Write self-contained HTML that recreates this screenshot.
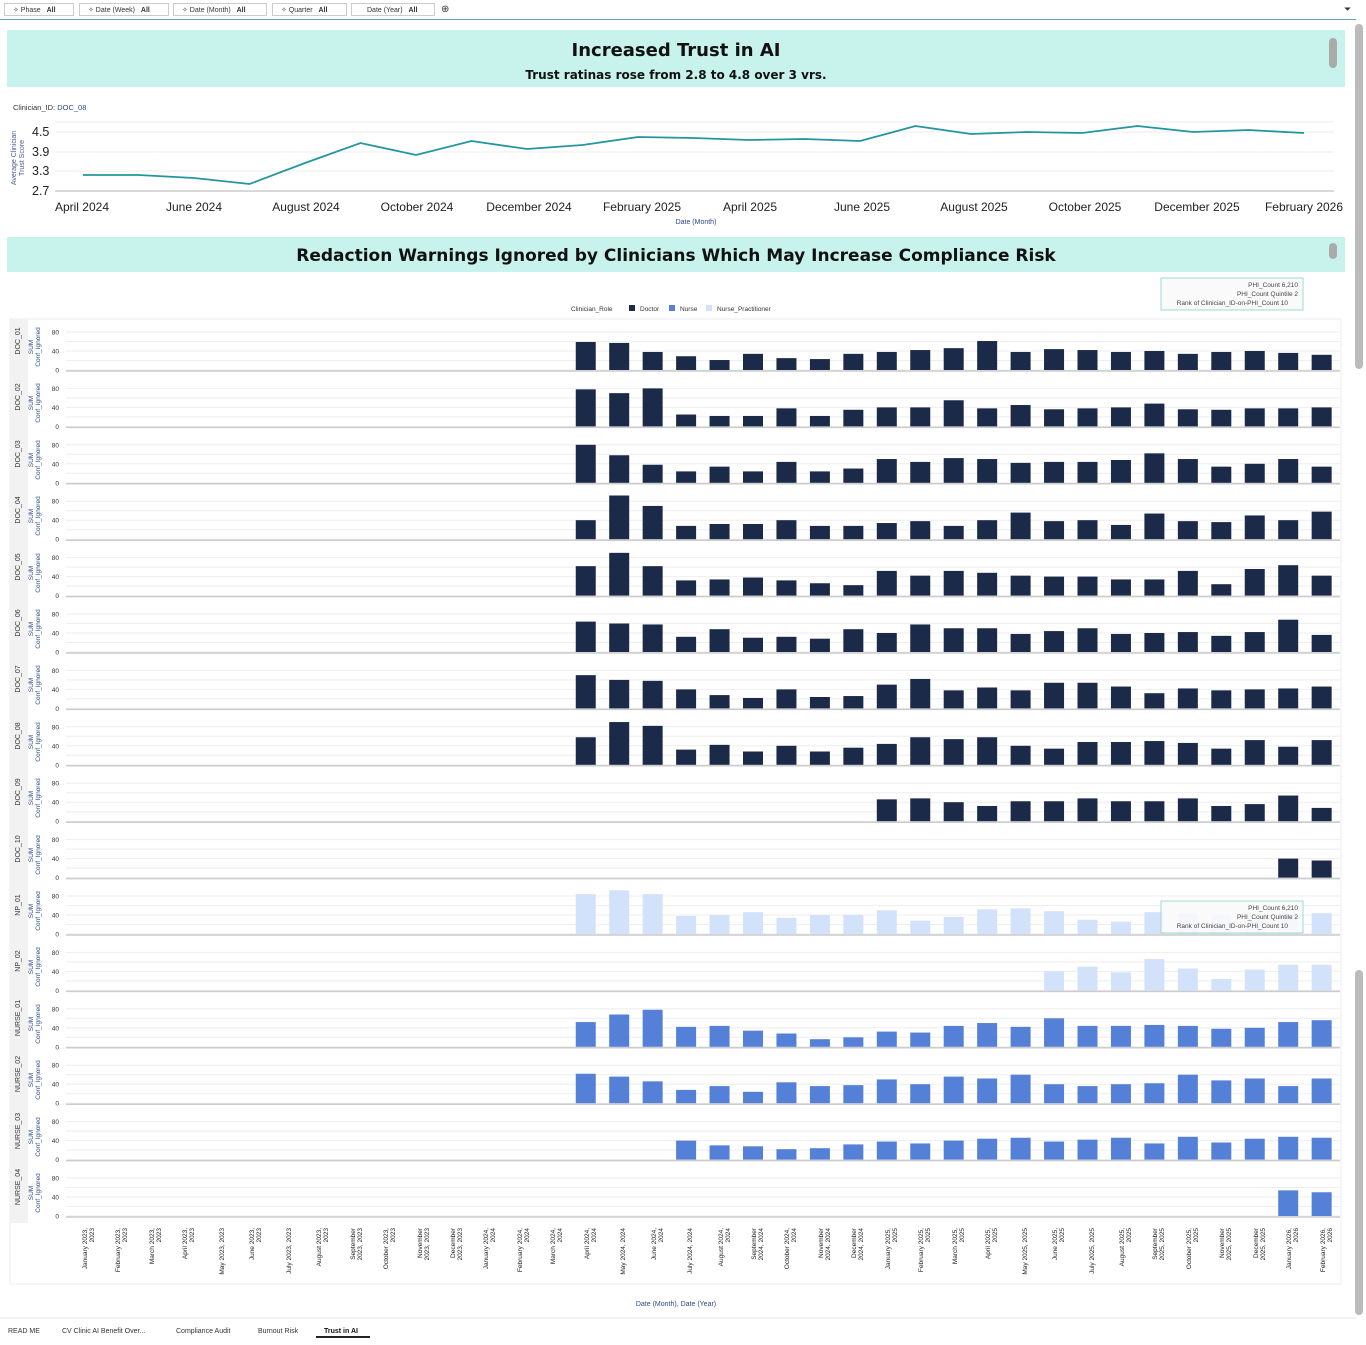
<!DOCTYPE html>
<html><head><meta charset="utf-8"><style>
body{margin:0;width:1366px;height:1345px;background:#fff;font-family:"Liberation Sans",sans-serif;overflow:hidden;position:relative}
.f{position:absolute;top:3px;height:13px;border:1px solid #ccc;font-size:7px;line-height:13px;color:#333;box-sizing:border-box;padding-left:8px}
.f b{font-weight:bold;margin-left:4px}
.ban{position:absolute;left:7px;width:1338px;background:#c8f2ec;text-align:center;color:#111;font-weight:bold;font-family:"DejaVu Sans","Liberation Sans",sans-serif}
svg text{font-family:"Liberation Sans",sans-serif}
</style></head><body>
<div class="f" style="left:4px;width:70px">✧ Phase <b>All</b></div>
<div class="f" style="left:79px;width:90px">✧ Date (Week) <b>All</b></div>
<div class="f" style="left:173px;width:94px">✧ Date (Month) <b>All</b></div>
<div class="f" style="left:272px;width:75px">✧ Quarter <b>All</b></div>
<div class="f" style="left:351px;width:84px;padding-left:15px">Date (Year) <b>All</b></div>
<div style="position:absolute;left:441px;top:4px;font-size:10px;color:#333">⊕</div>
<div style="position:absolute;left:1344px;top:4px;font-size:9px;color:#333">⏷</div>
<div style="position:absolute;left:0;top:19px;width:1356px;height:1px;background:#6a9fc7"></div>
<div class="ban" style="top:30px;height:57px"><div style="font-size:18px;margin-top:10px">Increased Trust in AI</div><div style="font-size:12px;margin-top:7px">Trust ratinas rose from 2.8 to 4.8 over 3 vrs.</div></div>
<div class="ban" style="top:237px;height:35px"><div style="font-size:17px;margin-top:9px">Redaction Warnings Ignored by Clinicians Which May Increase Compliance Risk</div></div>
<div style="position:absolute;left:1329px;top:38px;width:8px;height:30px;background:#aaa;border-radius:4px"></div>
<div style="position:absolute;left:1329px;top:243px;width:8px;height:16px;background:#aaa;border-radius:4px"></div>
<div style="position:absolute;left:1355px;top:24px;width:8px;height:345px;background:#bbb;border-radius:4px"></div>
<div style="position:absolute;left:1355px;top:970px;width:8px;height:345px;background:#bbb;border-radius:4px"></div>
<svg width="1366" height="1345" style="position:absolute;left:0;top:0" id="s">
<text x="13" y="110" font-size="7.5" fill="#333">Clinician_ID: <tspan fill="#2d4a8a">DOC_08</tspan></text>
<g stroke="#eee" stroke-width="1"><line x1="55" x2="1334" y1="122" y2="122"/><line x1="55" x2="1334" y1="132" y2="132"/><line x1="55" x2="1334" y1="152" y2="152"/><line x1="55" x2="1334" y1="171" y2="171"/></g>
<line x1="55" x2="1334" y1="191" y2="191" stroke="#ccc" stroke-width="1.5"/>
<g font-size="12.5" fill="#222"><text x="32" y="136">4.5</text><text x="32" y="156">3.9</text><text x="32" y="175">3.3</text><text x="32" y="195">2.7</text></g>
<text transform="translate(18,158) rotate(-90)" text-anchor="middle" font-size="7" fill="#4a5a8a"><tspan x="0" dy="-2">Average Clinician</tspan><tspan x="0" dy="8">Trust Score</tspan></text>
<g font-size="12" fill="#222" text-anchor="middle">
<text x="82" y="211">April 2024</text><text x="194" y="211">June 2024</text><text x="306" y="211">August 2024</text><text x="417" y="211">October 2024</text><text x="529" y="211">December 2024</text><text x="642" y="211">February 2025</text><text x="750" y="211">April 2025</text><text x="862" y="211">June 2025</text><text x="974" y="211">August 2025</text><text x="1085" y="211">October 2025</text><text x="1197" y="211">December 2025</text><text x="1304" y="211">February 2026</text></g>
<text x="696" y="224" font-size="7" fill="#2d4a8a" text-anchor="middle">Date (Month)</text>
<polyline id="ln" fill="none" stroke="#23969e" stroke-width="1.8"/>
<rect x="1161" y="278" width="142" height="32" fill="#fafafa" stroke="#9fd8d4"/>
<g font-size="6.5" fill="#444" text-anchor="end"><text x="1298" y="287">PHI_Count 6,210</text><text x="1298" y="296">PHI_Count Quintile 2</text><text x="1288" y="305">Rank of Clinician_ID-on-PHI_Count 10</text></g>
<g font-size="6.5" fill="#333"><text x="571" y="311">Clinician_Role</text><rect x="629" y="305" width="6" height="6" fill="#1b2a48"/><text x="640" y="311">Doctor</text><rect x="669" y="305" width="6" height="6" fill="#5580d8"/><text x="680" y="311">Nurse</text><rect x="706" y="305" width="6" height="6" fill="#d3e2fb"/><text x="717" y="311">Nurse_Practitioner</text></g>
<rect x="10" y="319" width="1331" height="965" fill="none" stroke="#eee"/>
<rect x="10" y="319" width="18" height="904" fill="#f2f2f2"/>
<g id="rows"></g>
<g font-size="7" fill="#333" id="rl">
<text transform="translate(20,341) rotate(-90)" text-anchor="middle">DOC_01</text>
<text transform="translate(20,397) rotate(-90)" text-anchor="middle">DOC_02</text>
<text transform="translate(20,454) rotate(-90)" text-anchor="middle">DOC_03</text>
<text transform="translate(20,510) rotate(-90)" text-anchor="middle">DOC_04</text>
<text transform="translate(20,567) rotate(-90)" text-anchor="middle">DOC_05</text>
<text transform="translate(20,623) rotate(-90)" text-anchor="middle">DOC_06</text>
<text transform="translate(20,679) rotate(-90)" text-anchor="middle">DOC_07</text>
<text transform="translate(20,736) rotate(-90)" text-anchor="middle">DOC_08</text>
<text transform="translate(20,792) rotate(-90)" text-anchor="middle">DOC_09</text>
<text transform="translate(20,849) rotate(-90)" text-anchor="middle">DOC_10</text>
<text transform="translate(20,905) rotate(-90)" text-anchor="middle">NP_01</text>
<text transform="translate(20,961) rotate(-90)" text-anchor="middle">NP_02</text>
<text transform="translate(20,1018) rotate(-90)" text-anchor="middle">NURSE_01</text>
<text transform="translate(20,1074) rotate(-90)" text-anchor="middle">NURSE_02</text>
<text transform="translate(20,1131) rotate(-90)" text-anchor="middle">NURSE_03</text>
<text transform="translate(20,1187) rotate(-90)" text-anchor="middle">NURSE_04</text>
</g>
<g font-size="6.5" fill="#2d4a8a" text-anchor="middle">
<text transform="translate(33,347) rotate(-90)"><tspan x="0" dy="0">SUM</tspan><tspan x="0" dy="7">Conf_Ignored</tspan></text>
<text transform="translate(33,403) rotate(-90)"><tspan x="0" dy="0">SUM</tspan><tspan x="0" dy="7">Conf_Ignored</tspan></text>
<text transform="translate(33,460) rotate(-90)"><tspan x="0" dy="0">SUM</tspan><tspan x="0" dy="7">Conf_Ignored</tspan></text>
<text transform="translate(33,516) rotate(-90)"><tspan x="0" dy="0">SUM</tspan><tspan x="0" dy="7">Conf_Ignored</tspan></text>
<text transform="translate(33,573) rotate(-90)"><tspan x="0" dy="0">SUM</tspan><tspan x="0" dy="7">Conf_Ignored</tspan></text>
<text transform="translate(33,629) rotate(-90)"><tspan x="0" dy="0">SUM</tspan><tspan x="0" dy="7">Conf_Ignored</tspan></text>
<text transform="translate(33,685) rotate(-90)"><tspan x="0" dy="0">SUM</tspan><tspan x="0" dy="7">Conf_Ignored</tspan></text>
<text transform="translate(33,742) rotate(-90)"><tspan x="0" dy="0">SUM</tspan><tspan x="0" dy="7">Conf_Ignored</tspan></text>
<text transform="translate(33,798) rotate(-90)"><tspan x="0" dy="0">SUM</tspan><tspan x="0" dy="7">Conf_Ignored</tspan></text>
<text transform="translate(33,855) rotate(-90)"><tspan x="0" dy="0">SUM</tspan><tspan x="0" dy="7">Conf_Ignored</tspan></text>
<text transform="translate(33,911) rotate(-90)"><tspan x="0" dy="0">SUM</tspan><tspan x="0" dy="7">Conf_Ignored</tspan></text>
<text transform="translate(33,967) rotate(-90)"><tspan x="0" dy="0">SUM</tspan><tspan x="0" dy="7">Conf_Ignored</tspan></text>
<text transform="translate(33,1024) rotate(-90)"><tspan x="0" dy="0">SUM</tspan><tspan x="0" dy="7">Conf_Ignored</tspan></text>
<text transform="translate(33,1080) rotate(-90)"><tspan x="0" dy="0">SUM</tspan><tspan x="0" dy="7">Conf_Ignored</tspan></text>
<text transform="translate(33,1137) rotate(-90)"><tspan x="0" dy="0">SUM</tspan><tspan x="0" dy="7">Conf_Ignored</tspan></text>
<text transform="translate(33,1193) rotate(-90)"><tspan x="0" dy="0">SUM</tspan><tspan x="0" dy="7">Conf_Ignored</tspan></text>
</g>
<g font-size="6.5" fill="#333" text-anchor="end" id="tk"></g>
<g font-size="6.5" fill="#222" text-anchor="end">
<text transform="translate(88,1228) rotate(-90)"><tspan x="0" dy="-1">January 2023,</tspan><tspan x="0" dy="7">2023</tspan></text>
<text transform="translate(121,1228) rotate(-90)"><tspan x="0" dy="-1">February 2023,</tspan><tspan x="0" dy="7">2023</tspan></text>
<text transform="translate(155,1228) rotate(-90)"><tspan x="0" dy="-1">March 2023,</tspan><tspan x="0" dy="7">2023</tspan></text>
<text transform="translate(188,1228) rotate(-90)"><tspan x="0" dy="-1">April 2023,</tspan><tspan x="0" dy="7">2023</tspan></text>
<text transform="translate(222,1228) rotate(-90)"><tspan x="0" dy="2">May 2023, 2023</tspan></text>
<text transform="translate(255,1228) rotate(-90)"><tspan x="0" dy="-1">June 2023,</tspan><tspan x="0" dy="7">2023</tspan></text>
<text transform="translate(289,1228) rotate(-90)"><tspan x="0" dy="2">July 2023, 2023</tspan></text>
<text transform="translate(322,1228) rotate(-90)"><tspan x="0" dy="-1">August 2023,</tspan><tspan x="0" dy="7">2023</tspan></text>
<text transform="translate(356,1228) rotate(-90)"><tspan x="0" dy="-1">September</tspan><tspan x="0" dy="7">2023, 2023</tspan></text>
<text transform="translate(389,1228) rotate(-90)"><tspan x="0" dy="-1">October 2023,</tspan><tspan x="0" dy="7">2023</tspan></text>
<text transform="translate(423,1228) rotate(-90)"><tspan x="0" dy="-1">November</tspan><tspan x="0" dy="7">2023, 2023</tspan></text>
<text transform="translate(456,1228) rotate(-90)"><tspan x="0" dy="-1">December</tspan><tspan x="0" dy="7">2023, 2023</tspan></text>
<text transform="translate(489,1228) rotate(-90)"><tspan x="0" dy="-1">January 2024,</tspan><tspan x="0" dy="7">2024</tspan></text>
<text transform="translate(523,1228) rotate(-90)"><tspan x="0" dy="-1">February 2024,</tspan><tspan x="0" dy="7">2024</tspan></text>
<text transform="translate(556,1228) rotate(-90)"><tspan x="0" dy="-1">March 2024,</tspan><tspan x="0" dy="7">2024</tspan></text>
<text transform="translate(590,1228) rotate(-90)"><tspan x="0" dy="-1">April 2024,</tspan><tspan x="0" dy="7">2024</tspan></text>
<text transform="translate(623,1228) rotate(-90)"><tspan x="0" dy="2">May 2024, 2024</tspan></text>
<text transform="translate(657,1228) rotate(-90)"><tspan x="0" dy="-1">June 2024,</tspan><tspan x="0" dy="7">2024</tspan></text>
<text transform="translate(690,1228) rotate(-90)"><tspan x="0" dy="2">July 2024, 2024</tspan></text>
<text transform="translate(724,1228) rotate(-90)"><tspan x="0" dy="-1">August 2024,</tspan><tspan x="0" dy="7">2024</tspan></text>
<text transform="translate(757,1228) rotate(-90)"><tspan x="0" dy="-1">September</tspan><tspan x="0" dy="7">2024, 2024</tspan></text>
<text transform="translate(790,1228) rotate(-90)"><tspan x="0" dy="-1">October 2024,</tspan><tspan x="0" dy="7">2024</tspan></text>
<text transform="translate(824,1228) rotate(-90)"><tspan x="0" dy="-1">November</tspan><tspan x="0" dy="7">2024, 2024</tspan></text>
<text transform="translate(857,1228) rotate(-90)"><tspan x="0" dy="-1">December</tspan><tspan x="0" dy="7">2024, 2024</tspan></text>
<text transform="translate(891,1228) rotate(-90)"><tspan x="0" dy="-1">January 2025,</tspan><tspan x="0" dy="7">2025</tspan></text>
<text transform="translate(924,1228) rotate(-90)"><tspan x="0" dy="-1">February 2025,</tspan><tspan x="0" dy="7">2025</tspan></text>
<text transform="translate(958,1228) rotate(-90)"><tspan x="0" dy="-1">March 2025,</tspan><tspan x="0" dy="7">2025</tspan></text>
<text transform="translate(991,1228) rotate(-90)"><tspan x="0" dy="-1">April 2025,</tspan><tspan x="0" dy="7">2025</tspan></text>
<text transform="translate(1025,1228) rotate(-90)"><tspan x="0" dy="2">May 2025, 2025</tspan></text>
<text transform="translate(1058,1228) rotate(-90)"><tspan x="0" dy="-1">June 2025,</tspan><tspan x="0" dy="7">2025</tspan></text>
<text transform="translate(1092,1228) rotate(-90)"><tspan x="0" dy="2">July 2025, 2025</tspan></text>
<text transform="translate(1125,1228) rotate(-90)"><tspan x="0" dy="-1">August 2025,</tspan><tspan x="0" dy="7">2025</tspan></text>
<text transform="translate(1158,1228) rotate(-90)"><tspan x="0" dy="-1">September</tspan><tspan x="0" dy="7">2025, 2025</tspan></text>
<text transform="translate(1192,1228) rotate(-90)"><tspan x="0" dy="-1">October 2025,</tspan><tspan x="0" dy="7">2025</tspan></text>
<text transform="translate(1225,1228) rotate(-90)"><tspan x="0" dy="-1">November</tspan><tspan x="0" dy="7">2025, 2025</tspan></text>
<text transform="translate(1259,1228) rotate(-90)"><tspan x="0" dy="-1">December</tspan><tspan x="0" dy="7">2025, 2025</tspan></text>
<text transform="translate(1292,1228) rotate(-90)"><tspan x="0" dy="-1">January 2026,</tspan><tspan x="0" dy="7">2026</tspan></text>
<text transform="translate(1326,1228) rotate(-90)"><tspan x="0" dy="-1">February 2026,</tspan><tspan x="0" dy="7">2026</tspan></text>
</g>
<text x="676" y="1306" font-size="7" fill="#2d4a8a" text-anchor="middle">Date (Month), Date (Year)</text>
<g id="tt2"><rect x="1161" y="901" width="142" height="32" fill="#fafafa" fill-opacity="0.9" stroke="#9fd8d4"/>
<g font-size="6.5" fill="#444" text-anchor="end"><text x="1298" y="910">PHI_Count 6,210</text><text x="1298" y="919">PHI_Count Quintile 2</text><text x="1288" y="928">Rank of Clinician_ID-on-PHI_Count 10</text></g></g>
<line x1="0" x2="1356" y1="1318" y2="1318" stroke="#e5e5e5"/>
<g font-size="7" fill="#333"><text x="8" y="1333">READ ME</text><text x="62" y="1333">CV Clinic AI Benefit Over...</text><text x="176" y="1333">Compliance Audit</text><text x="258" y="1333">Burnout Risk</text><text x="324" y="1333" font-weight="bold" fill="#111">Trust in AI</text></g>
<rect x="316" y="1336" width="54" height="2" fill="#222"/>
</svg>
<script>
var NS="http://www.w3.org/2000/svg";
function el(t,a,p){var e=document.createElementNS(NS,t);for(var k in a)e.setAttribute(k,a[k]);p.appendChild(e);return e;}
var ys=[175,175,178,184,163,143,155,141,149,145,137,138,140,139,141,126,134,132,133,126,132,130,133];
document.getElementById('ln').setAttribute('points',ys.map(function(y,i){return (83+i*55.5)+','+y}).join(' '));
var D='#1b2a48',N='#5580d8',P='#d3e2fb';
var rows=[
[15,D,[59,57,38,29,21,34,25,23,34,38,42,46,61,38,44,42,38,40,34,38,40,36,32]],
[15,D,[78,70,80,25,22,22,38,22,35,40,40,55,38,45,36,38,40,48,36,35,38,38,40]],
[15,D,[80,58,38,24,34,24,44,24,30,50,44,52,50,42,44,44,48,62,50,34,40,50,34]],
[15,D,[40,92,70,28,32,32,40,28,28,34,38,28,40,56,38,40,30,54,38,36,50,40,58]],
[15,D,[62,90,62,32,34,38,32,26,22,52,42,52,48,42,40,40,34,34,52,24,56,64,42]],
[15,D,[64,60,58,32,48,30,32,28,48,40,58,50,50,38,44,50,38,40,42,34,42,68,36]],
[15,D,[70,60,58,40,28,22,40,24,26,50,62,38,44,38,54,54,46,32,42,38,40,42,46]],
[15,D,[58,90,82,32,42,28,40,28,36,44,58,54,58,40,34,48,48,50,46,34,52,38,52]],
[24,D,[46,48,40,32,42,42,48,42,42,48,32,36,54,28]],
[36,D,[40,36]],
[15,P,[84,92,84,38,40,46,34,40,40,50,28,36,52,54,48,30,26,46,44,40,36,44,44]],
[29,P,[40,50,38,66,46,24,44,54,54]],
[15,N,[52,68,78,42,44,34,28,16,20,32,30,44,50,42,60,44,44,46,44,38,40,52,56]],
[15,N,[62,56,46,28,36,24,44,36,38,50,40,56,52,60,40,36,40,42,60,48,52,36,52]],
[18,N,[40,30,28,22,24,32,38,34,40,44,46,38,42,46,34,48,36,44,48,46]],
[36,N,[54,50]]];
var g=document.getElementById('rows'),tk=document.getElementById('tk'),s=0.475;
rows.forEach(function(r,i){
 var b=370+i*56.4;
 [0,20,40,60,80].forEach(function(v){el('line',{x1:66,x2:1340,y1:b-v*s,y2:b-v*s,stroke:'#eee'},g);});
 el('line',{x1:66,x2:1340,y1:b+1,y2:b+1,stroke:'#ccc','stroke-width':1.5},g);
 [0,40,80].forEach(function(v){var t=el('text',{x:59,y:b-v*s+2.5},tk);t.textContent=v;});
 r[2].forEach(function(v,j){var cx=84+(r[0]+j)*33.45;el('rect',{x:cx-10,y:b-v*s,width:20,height:v*s,fill:r[1]},g);});
});
var t2=document.getElementById('tt2');t2.parentNode.appendChild(t2);
</script>
</body></html>
